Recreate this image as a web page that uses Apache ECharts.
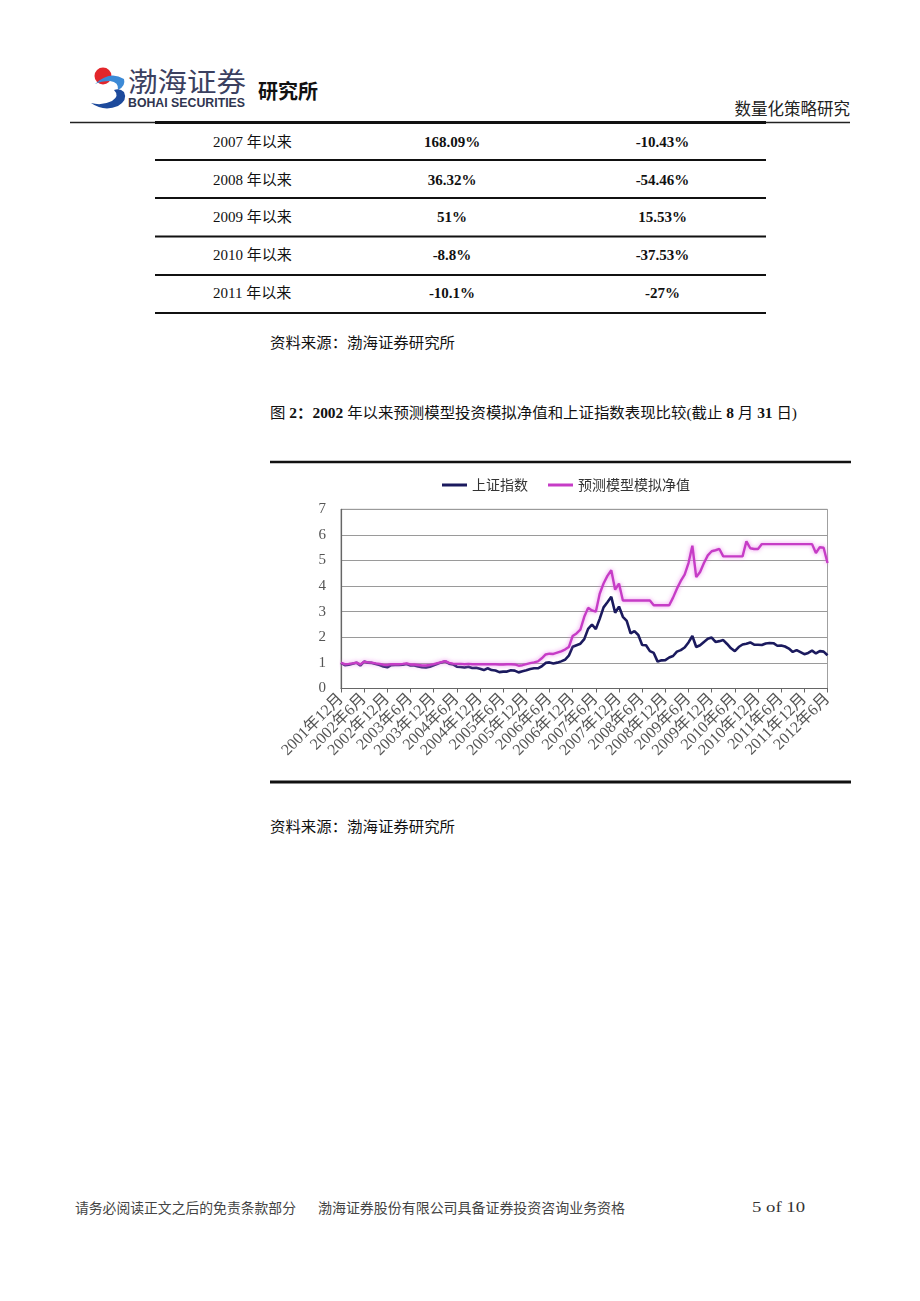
<!DOCTYPE html>
<html><head><meta charset="utf-8">
<script src="https://cdn.jsdelivr.net/npm/echarts/dist/echarts.min.js"></script>
<style>
html,body{margin:0;padding:0;background:#fff;}
#page{position:relative;width:920px;height:1301px;overflow:hidden;background:#fff;}
#svg{position:absolute;left:0;top:0;}
#chart{position:absolute;left:0;top:0;width:920px;height:1301px;}
</style></head>
<body>
<div id="page">
<svg id="svg" width="920" height="1301" xmlns="http://www.w3.org/2000/svg"></svg>
<div id="chart"></div>
</div>
<script>
// ---------- data ----------
const tableLabels = ['2007 年以来', '2008 年以来', '2009 年以来', '2010 年以来', '2011 年以来'];
const tableCol1 = ['168.09%', '36.32%', '51%', '-8.8%', '-10.1%'];
const tableCol2 = ['-10.43%', '-54.46%', '15.53%', '-37.53%', '-27%'];

const seriesNames = ['上证指数', '预测模型模拟净值'];
const startYear = 2001, startMonth = 12, monthCount = 127;
const yTicks = [0, 1, 2, 3, 4, 5, 6, 7];

const shIndex = [
  1.00, 0.91, 0.93, 0.97, 1.01, 0.90, 1.05, 1.01, 1.00, 0.96, 0.92, 0.86, 0.83,
  0.91, 0.92, 0.92, 0.93, 0.96, 0.90, 0.90, 0.86, 0.83, 0.82, 0.85, 0.91,
  0.97, 1.02, 1.06, 0.97, 0.94, 0.85, 0.84, 0.82, 0.85, 0.80, 0.81, 0.77,
  0.72, 0.79, 0.72, 0.70, 0.64, 0.66, 0.66, 0.71, 0.70, 0.63, 0.67, 0.71,
  0.76, 0.79, 0.79, 0.87, 1.00, 1.02, 0.98, 1.01, 1.06, 1.12, 1.28, 1.63,
  1.69, 1.75, 1.93, 2.33, 2.50, 2.32, 2.72, 3.17, 3.37, 3.58, 2.96, 3.20,
  2.80, 2.64, 2.15, 2.24, 2.09, 1.70, 1.69, 1.46, 1.39, 1.05, 1.10, 1.11,
  1.21, 1.27, 1.44, 1.50, 1.60, 1.80, 2.05, 1.62, 1.69, 1.82, 1.94, 1.99,
  1.82, 1.85, 1.89, 1.74, 1.57, 1.46, 1.62, 1.72, 1.75, 1.80, 1.71, 1.71,
  1.70, 1.76, 1.78, 1.77, 1.67, 1.68, 1.64, 1.56, 1.43, 1.50, 1.42, 1.34,
  1.39, 1.48, 1.37, 1.46, 1.44, 1.30
];
const modelNav = [
  1.00, 0.95, 0.96, 0.98, 1.01, 0.94, 1.05, 1.02, 1.01, 0.98, 0.96, 0.93, 0.92,
  0.95, 0.95, 0.95, 0.96, 0.98, 0.94, 0.94, 0.92, 0.90, 0.90, 0.92, 0.95,
  0.99, 1.03, 1.07, 1.00, 0.97,
  0.96, 0.96, 0.95, 0.96, 0.95, 0.95, 0.95, 0.95, 0.95, 0.95, 0.95, 0.94, 0.94, 0.95, 0.95, 0.94,
  0.89, 0.91, 0.95, 0.99, 1.02, 1.06, 1.18,
  1.33, 1.36, 1.35, 1.40, 1.45, 1.52, 1.62, 2.05,
  2.15, 2.30, 2.80, 3.15, 3.05, 3.00, 3.70, 4.10, 4.40, 4.62, 3.86, 4.10, 3.44,
  3.44, 3.44, 3.44, 3.44, 3.44, 3.44, 3.44,
  3.25, 3.25, 3.25, 3.25, 3.25,
  3.55, 3.90, 4.20, 4.45, 4.90, 5.58, 4.35, 4.55, 4.90, 5.20, 5.36, 5.40, 5.45,
  5.16, 5.16, 5.16, 5.16, 5.16, 5.16,
  5.75, 5.48, 5.45, 5.45,
  5.64, 5.64, 5.64, 5.64, 5.64, 5.64, 5.64, 5.64, 5.64, 5.64, 5.64, 5.64, 5.64, 5.64,
  5.29, 5.52, 5.50, 4.90
];

// month categories
const months = [];
for (let k = 0; k < monthCount; k++) {
  const m0 = startMonth - 1 + k;
  months.push((startYear + Math.floor(m0 / 12)) + '年' + (m0 % 12 + 1) + '月');
}

// ---------- page (svg) ----------
const NS = 'http://www.w3.org/2000/svg';
const svg = document.getElementById('svg');
const SERIF = "'Liberation Serif','Noto Sans CJK SC',serif";
const CJK = "'Noto Sans CJK SC','Liberation Serif',sans-serif";
function el(tag, attrs, parent) {
  const e = document.createElementNS(NS, tag);
  for (const k in attrs) e.setAttribute(k, attrs[k]);
  (parent || svg).appendChild(e);
  return e;
}
function text(str, attrs) {
  const t = el('text', Object.assign({'dominant-baseline': 'central'}, attrs));
  t.textContent = str;
  return t;
}
function line(x1, y1, x2, y2, w, c) {
  el('line', {x1: x1, y1: y1, x2: x2, y2: y2, stroke: c || '#111', 'stroke-width': w});
}

// logo
el('circle', {cx: 103, cy: 76, r: 8.5, fill: '#e3262b'});
el('path', {d: 'M95,84 Q110,70 124,79 Q126,86 118,90 Q119,82 110,81 Q101,81 95,84 Z', fill: '#3c8ad6'});
el('path', {d: 'M91,103 Q104,112 118,106 Q128,100 124,92 Q120,88 114,90 Q120,96 112,101 Q102,106 91,103 Z', fill: '#1d4a9c'});
text('渤海证券', {x: 128, y: 80, 'font-family': CJK, 'font-size': 27, fill: '#3b4060', textLength: 118, lengthAdjust: 'spacingAndGlyphs'});
text('BOHAI SECURITIES', {x: 128, y: 103, 'font-family': "'Liberation Sans',Arial,sans-serif", 'font-weight': 'bold', 'font-size': 12, fill: '#2f3550', textLength: 117, lengthAdjust: 'spacingAndGlyphs'});
text('研究所', {x: 258, y: 90, 'font-family': CJK, 'font-weight': 'bold', 'font-size': 20, fill: '#111'});
text('数量化策略研究', {x: 850, y: 108, 'text-anchor': 'end', 'font-family': CJK, 'font-size': 16.5, fill: '#222'});
line(70, 122.5, 850, 122.5, 1.5, '#222');

// table
line(155, 122.5, 766, 122.5, 3, '#111');
const rowLines = [160, 198, 236.5, 275, 313];
rowLines.forEach(y => line(155, y, 766, y, 2, '#111'));
const rowY = [142, 180, 217, 254.5, 292.5];
tableLabels.forEach((s, i) => {
  text(s, {x: 213, y: rowY[i], 'font-family': SERIF, 'font-size': 15, fill: '#111'});
  text(tableCol1[i], {x: 452, y: rowY[i], 'text-anchor': 'middle', 'font-family': SERIF, 'font-weight': 'bold', 'font-size': 15, fill: '#111'});
  text(tableCol2[i], {x: 662.5, y: rowY[i], 'text-anchor': 'middle', 'font-family': SERIF, 'font-weight': 'bold', 'font-size': 15, fill: '#111'});
});
text('资料来源：渤海证券研究所', {x: 270, y: 343, 'font-family': SERIF, 'font-size': 15, fill: '#111', textLength: 185, lengthAdjust: 'spacingAndGlyphs'});

// caption with bold parts
const cap = el('text', {x: 270, y: 413, 'dominant-baseline': 'central', 'font-family': SERIF, 'font-size': 15, fill: '#111', textLength: 527, lengthAdjust: 'spacingAndGlyphs'});
[['图 ', false], ['2：2002', true], [' 年以来预测模型投资模拟净值和上证指数表现比较(截止 ', false], ['8', true], [' 月 ', false], ['31', true], [' 日)', false]].forEach(p => {
  const ts = el('tspan', p[1] ? {'font-weight': 'bold'} : {}, cap);
  ts.textContent = p[0];
});

// chart frame
line(270, 462, 851, 462, 2.5, '#111');
line(270, 782, 851, 782, 3, '#111');
text('资料来源：渤海证券研究所', {x: 270, y: 827, 'font-family': SERIF, 'font-size': 15, fill: '#111', textLength: 185, lengthAdjust: 'spacingAndGlyphs'});

// footer
text('请务必阅读正文之后的免责条款部分', {x: 75, y: 1207, 'font-family': CJK, 'font-size': 14, fill: '#444', textLength: 221, lengthAdjust: 'spacingAndGlyphs'});
text('渤海证券股份有限公司具备证券投资咨询业务资格', {x: 318, y: 1207, 'font-family': CJK, 'font-size': 14, fill: '#444', textLength: 307, lengthAdjust: 'spacingAndGlyphs'});
text('5 of 10', {x: 752, y: 1207, 'font-family': SERIF, 'font-size': 15, fill: '#333', textLength: 53, lengthAdjust: 'spacingAndGlyphs'});

// ---------- chart ----------
const chart = echarts.init(document.getElementById('chart'), null, {renderer: 'canvas'});
chart.setOption({
  animation: false,
  backgroundColor: 'transparent',
  legend: {
    data: seriesNames,
    left: 437, top: 473,
    icon: 'rect', itemWidth: 25, itemHeight: 3, itemGap: 20,
    textStyle: {fontFamily: CJK, fontSize: 14, color: '#333'}
  },
  grid: {left: 341, top: 509.3, width: 486.5, height: 179.2, show: true, borderColor: '#a0a0a0', borderWidth: 1, containLabel: false, outerBoundsMode: 'none'},
  xAxis: {
    type: 'category', data: months, boundaryGap: false,
    axisLine: {lineStyle: {color: '#666', width: 1.2}},
    axisTick: {interval: 5, length: 4, lineStyle: {color: '#666'}},
    axisLabel: {interval: 5, rotate: 45, margin: 8, fontFamily: SERIF, fontSize: 16, color: '#555'},
    splitLine: {show: false}
  },
  yAxis: {
    type: 'value', min: yTicks[0], max: yTicks[yTicks.length - 1], interval: 1,
    axisLine: {show: true, lineStyle: {color: '#666', width: 1.2}},
    axisTick: {show: false},
    axisLabel: {margin: 15, fontFamily: SERIF, fontSize: 15, color: '#555'},
    splitLine: {lineStyle: {color: '#9a9a9a', width: 1}}
  },
  series: [
    {name: seriesNames[0], type: 'line', data: shIndex, showSymbol: false, symbol: 'none',
     itemStyle: {color: '#1b1a5e'}, lineStyle: {color: '#1b1a5e', width: 2.6}},
    {name: seriesNames[1], type: 'line', data: modelNav, showSymbol: false, symbol: 'none',
     itemStyle: {color: '#c63cc6'}, lineStyle: {color: '#c63cc6', width: 2.4, shadowColor: 'rgba(235,130,235,0.9)', shadowBlur: 4}}
  ]
});
</script>
</body></html>
